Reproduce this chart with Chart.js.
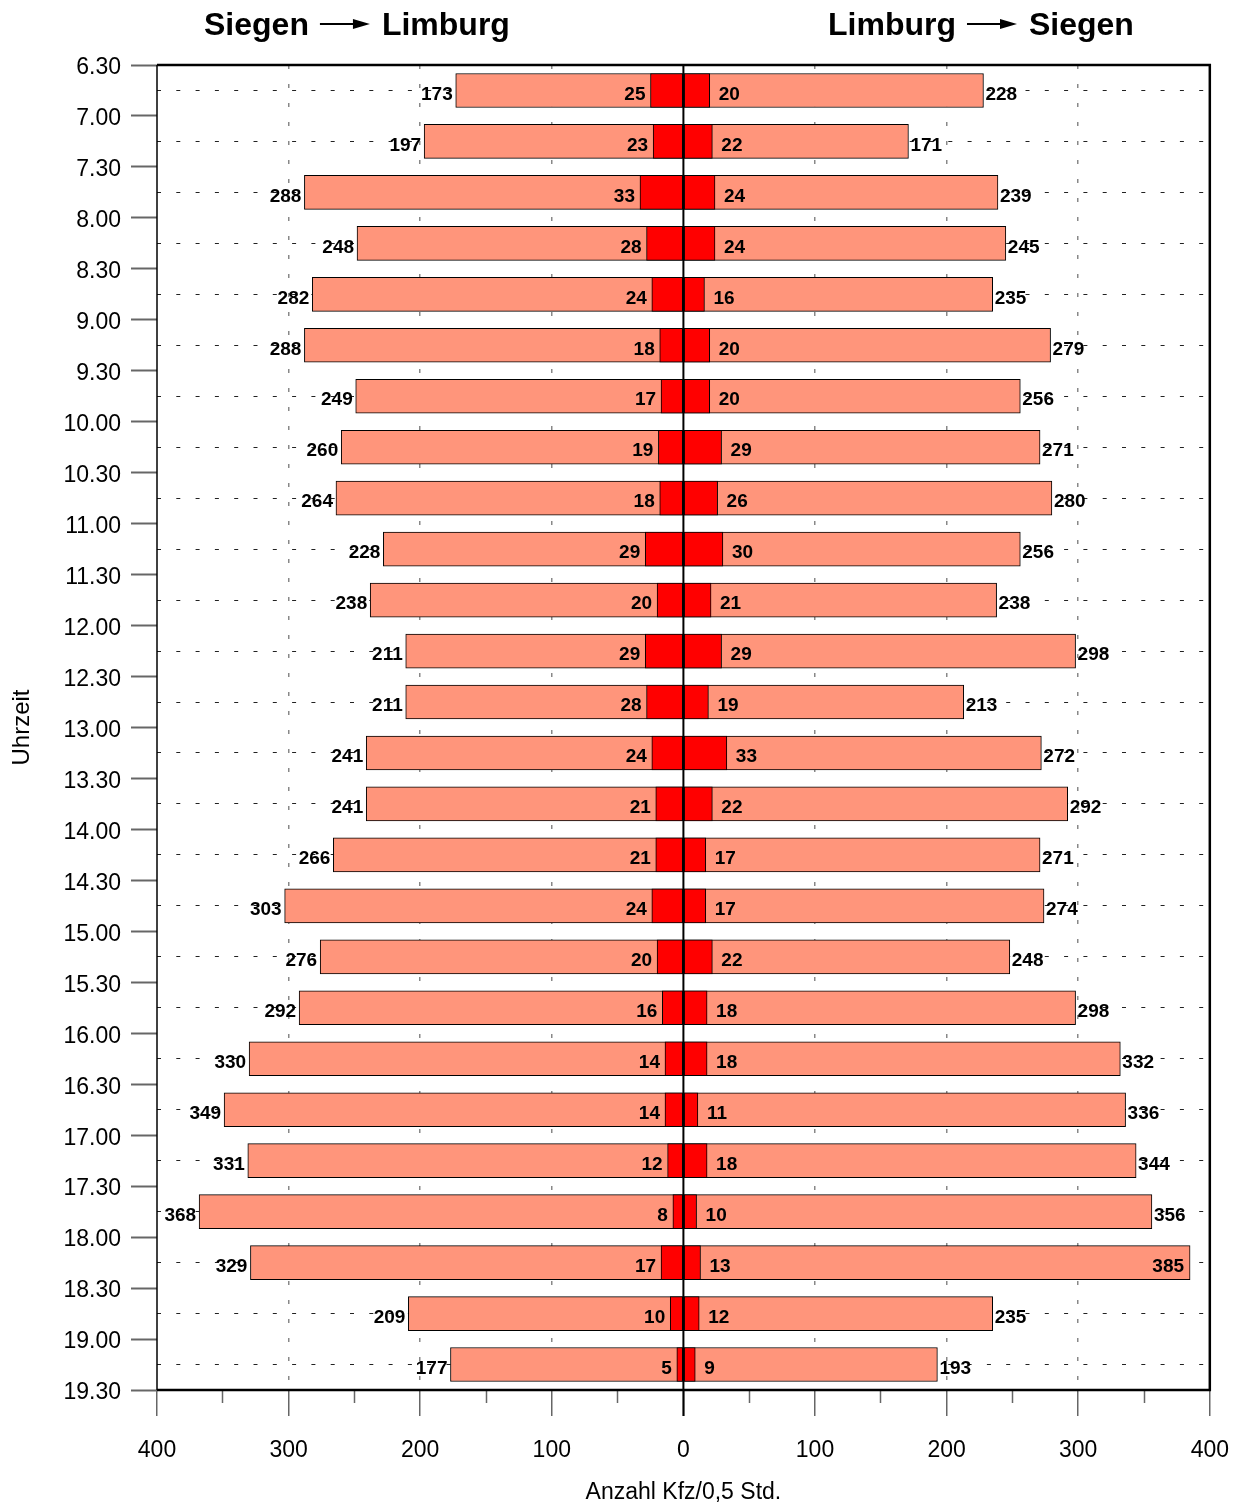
<!DOCTYPE html>
<html>
<head>
<meta charset="utf-8">
<title>Verkehrszählung Siegen – Limburg</title>
<script src="https://cdn.jsdelivr.net/npm/chart.js@4.4.1/dist/chart.umd.min.js"></script>
<style>
  html, body { margin: 0; padding: 0; background: #fff; }
  #wrap { position: relative; width: 1250px; height: 1506px; }
</style>
</head>
<body>
<div id="wrap"><canvas id="trafficChart" width="1250" height="1506"></canvas></div>
<script>
// --- Data ---
const timeLabels = ['6.30', '7.00', '7.30', '8.00', '8.30', '9.00', '9.30', '10.00', '10.30',
    '11.00', '11.30', '12.00', '12.30', '13.00', '13.30', '14.00', '14.30', '15.00', '15.30',
    '16.00', '16.30', '17.00', '17.30', '18.00', '18.30', '19.00', '19.30'];

// Siegen -> Limburg (drawn to the left)
const siegenLimburgTotal = [173, 197, 288, 248, 282, 288, 249, 260, 264, 228, 238, 211, 211,
    241, 241, 266, 303, 276, 292, 330, 349, 331, 368, 329, 209, 177];
const siegenLimburgHeavy = [25, 23, 33, 28, 24, 18, 17, 19, 18, 29, 20, 29, 28,
    24, 21, 21, 24, 20, 16, 14, 14, 12, 8, 17, 10, 5];

// Limburg -> Siegen (drawn to the right)
const limburgSiegenHeavy = [20, 22, 24, 24, 16, 20, 20, 29, 26, 30, 21, 29, 19,
    33, 22, 17, 17, 22, 18, 18, 11, 18, 10, 13, 12, 9];
const limburgSiegenTotal = [228, 171, 239, 245, 235, 279, 256, 271, 280, 256, 238, 298, 213,
    272, 292, 271, 274, 248, 298, 332, 336, 344, 356, 385, 235, 193];

const headerLeft = ['Siegen', 'Limburg'];
const headerRight = ['Limburg', 'Siegen'];
const xTitle = 'Anzahl Kfz/0,5 Std.';
const yTitle = 'Uhrzeit';

const FONT = '"Liberation Sans", Arial, Helvetica, sans-serif';
const SALMON = '#FF957B';
const RED = '#FF0000';
const NONE = 'rgba(0,0,0,0)';

// one bar per half hour, centred between two time ticks
function toRows(values, sign) {
    return values.map((v, i) => ({ x: sign * v, y: i + 0.5 }));
}

function barSet(label, values, sign, color, kind, side) {
    return {
        label: label,
        data: toRows(values, sign),
        values: values,
        kind: kind,
        side: side,
        backgroundColor: color,
        borderColor: '#000',
        borderWidth: 1,
        borderSkipped: false,
        barThickness: 34,
        grouped: false,
        xAxisID: 'x',
        yAxisID: 'y'
    };
}

// tick value from a scriptable context (undefined at scale level)
const tickVal = c => (c && c.tick) ? c.tick.value : undefined;
const isHalf = v => v !== undefined && !Number.isInteger(v);
const isWhole = v => v !== undefined && Number.isInteger(v);

// --- labels, centre line, frame and headers ---
const chartDecor = {
    id: 'chartDecor',
    afterDatasetsDraw(chart) {
        const ctx = chart.ctx;
        const area = chart.chartArea;
        ctx.save();
        ctx.font = 'bold 19px ' + FONT;
        ctx.fillStyle = '#000';
        ctx.textBaseline = 'middle';
        chart.data.datasets.forEach((ds, d) => {
            const meta = chart.getDatasetMeta(d);
            meta.data.forEach((bar, i) => {
                const text = String(ds.values[i]);
                const y = bar.y + 4;
                const w = ctx.measureText(text).width;
                if (ds.side === 'left') {
                    ctx.textAlign = 'right';
                    ctx.fillText(text, bar.x - (ds.kind === 'total' ? 3 : 5), y);
                } else {
                    const x = bar.x + (ds.kind === 'total' ? 2 : 9);
                    if (x + w > area.right - 2) {
                        ctx.textAlign = 'right';
                        ctx.fillText(text, bar.x - 6, y);
                    } else {
                        ctx.textAlign = 'left';
                        ctx.fillText(text, x, y);
                    }
                }
            });
        });

        // zero line on top of the bars
        const x0 = chart.scales.x.getPixelForValue(0);
        ctx.strokeStyle = '#000';
        ctx.lineWidth = 2;
        ctx.beginPath();
        ctx.moveTo(x0, area.top);
        ctx.lineTo(x0, area.bottom + 26);
        ctx.stroke();

        // plot frame
        ctx.lineWidth = 1.5;
        ctx.beginPath();
        ctx.moveTo(area.left, area.top);
        ctx.lineTo(area.left, area.bottom);
        ctx.stroke();
        ctx.lineWidth = 2.5;
        ctx.beginPath();
        ctx.moveTo(area.left, area.top);
        ctx.lineTo(area.right, area.top);
        ctx.lineTo(area.right, area.bottom);
        ctx.lineTo(area.left, area.bottom);
        ctx.stroke();
        ctx.restore();
    },
    afterDraw(chart) {
        const ctx = chart.ctx;
        ctx.save();
        drawHeader(ctx, headerLeft, 204);
        drawHeader(ctx, headerRight, 828);
        ctx.restore();
    }
};

function drawHeader(ctx, names, x) {
    const y = 35;
    ctx.font = 'bold 32px ' + FONT;
    ctx.fillStyle = '#000';
    ctx.strokeStyle = '#000';
    ctx.textAlign = 'left';
    ctx.textBaseline = 'alphabetic';
    ctx.fillText(names[0], x, y);
    const ax = x + ctx.measureText(names[0]).width + 11;
    const ay = y - 11;
    ctx.lineWidth = 2;
    ctx.beginPath();
    ctx.moveTo(ax, ay);
    ctx.lineTo(ax + 38, ay);
    ctx.stroke();
    ctx.beginPath();
    ctx.moveTo(ax + 33, ay - 5);
    ctx.lineTo(ax + 50, ay);
    ctx.lineTo(ax + 33, ay + 5);
    ctx.closePath();
    ctx.fill();
    ctx.fillText(names[1], ax + 62, y);
}

const ctx = document.getElementById('trafficChart').getContext('2d');
new Chart(ctx, {
    type: 'bar',
    data: {
        datasets: [
            barSet('Schwerverkehr Siegen → Limburg', siegenLimburgHeavy, -1, RED, 'heavy', 'left'),
            barSet('Schwerverkehr Limburg → Siegen', limburgSiegenHeavy, 1, RED, 'heavy', 'right'),
            barSet('Kfz Siegen → Limburg', siegenLimburgTotal, -1, SALMON, 'total', 'left'),
            barSet('Kfz Limburg → Siegen', limburgSiegenTotal, 1, SALMON, 'total', 'right')
        ]
    },
    options: {
        indexAxis: 'y',
        responsive: false,
        animation: false,
        devicePixelRatio: 1,
        layout: { padding: { top: 65, right: 36, left: 0, bottom: 0 } },
        plugins: {
            legend: { display: false },
            tooltip: { enabled: false }
        },
        scales: {
            y: {
                type: 'linear',
                position: 'left',
                reverse: true,
                offset: false,
                min: 0,
                max: timeLabels.length - 1,
                afterFit: s => { s.width = 157; },
                ticks: {
                    stepSize: 0.5,
                    autoSkip: false,
                    maxTicksLimit: 100,
                    padding: 10,
                    labelOffset: 3,
                    color: '#000',
                    font: { family: FONT, size: 23 },
                    callback: v => Number.isInteger(v) ? timeLabels[v] : ''
                },
                grid: {
                    offset: false,
                    lineWidth: 1,
                    color: c => isHalf(tickVal(c)) ? '#222' : NONE,
                    tickLength: 26,
                    tickWidth: 2,
                    tickColor: c => isWhole(tickVal(c)) ? '#666' : NONE
                },
                border: {
                    display: false,
                    dash: c => isHalf(tickVal(c)) ? [4, 15.3] : []
                },
                title: {
                    display: true,
                    text: yTitle,
                    color: '#000',
                    font: { family: FONT, size: 24 },
                    padding: { top: 8, bottom: 0 }
                }
            },
            xMinor: {
                type: 'linear',
                position: 'bottom',
                weight: 0,
                min: -400,
                max: 400,
                afterFit: s => { s.height = 0; },
                ticks: { display: false, stepSize: 50, autoSkip: false },
                grid: {
                    drawOnChartArea: false,
                    tickLength: 13,
                    tickWidth: 1.5,
                    tickColor: c => {
                        const v = tickVal(c);
                        return (v !== undefined && Math.abs(v) % 100 === 50) ? '#666' : NONE;
                    }
                },
                border: { display: false }
            },
            x: {
                type: 'linear',
                position: 'bottom',
                weight: 1,
                min: -400,
                max: 400,
                afterFit: s => { s.height = 116; },
                ticks: {
                    stepSize: 50,
                    autoSkip: false,
                    maxRotation: 0,
                    padding: 21,
                    color: '#000',
                    font: { family: FONT, size: 23 },
                    callback: v => v % 100 === 0 ? String(Math.abs(v)) : ''
                },
                grid: {
                    lineWidth: 1.5,
                    color: c => {
                        const v = tickVal(c);
                        if (v === undefined) return NONE;
                        const a = Math.abs(v);
                        return (a % 100 === 0 && a > 0 && a < 400) ? '#888' : NONE;
                    },
                    tickLength: 26,
                    tickWidth: 1.5,
                    tickColor: c => {
                        const v = tickVal(c);
                        return (v !== undefined && v % 100 === 0) ? '#666' : NONE;
                    }
                },
                border: {
                    display: false,
                    dash: c => tickVal(c) !== undefined ? [4, 15] : [],
                    dashOffset: 0
                },
                title: {
                    display: true,
                    text: xTitle,
                    color: '#000',
                    font: { family: FONT, size: 23 },
                    padding: { top: 0, bottom: 0 }
                }
            }
        }
    },
    plugins: [chartDecor]
});
</script>
</body>
</html>
